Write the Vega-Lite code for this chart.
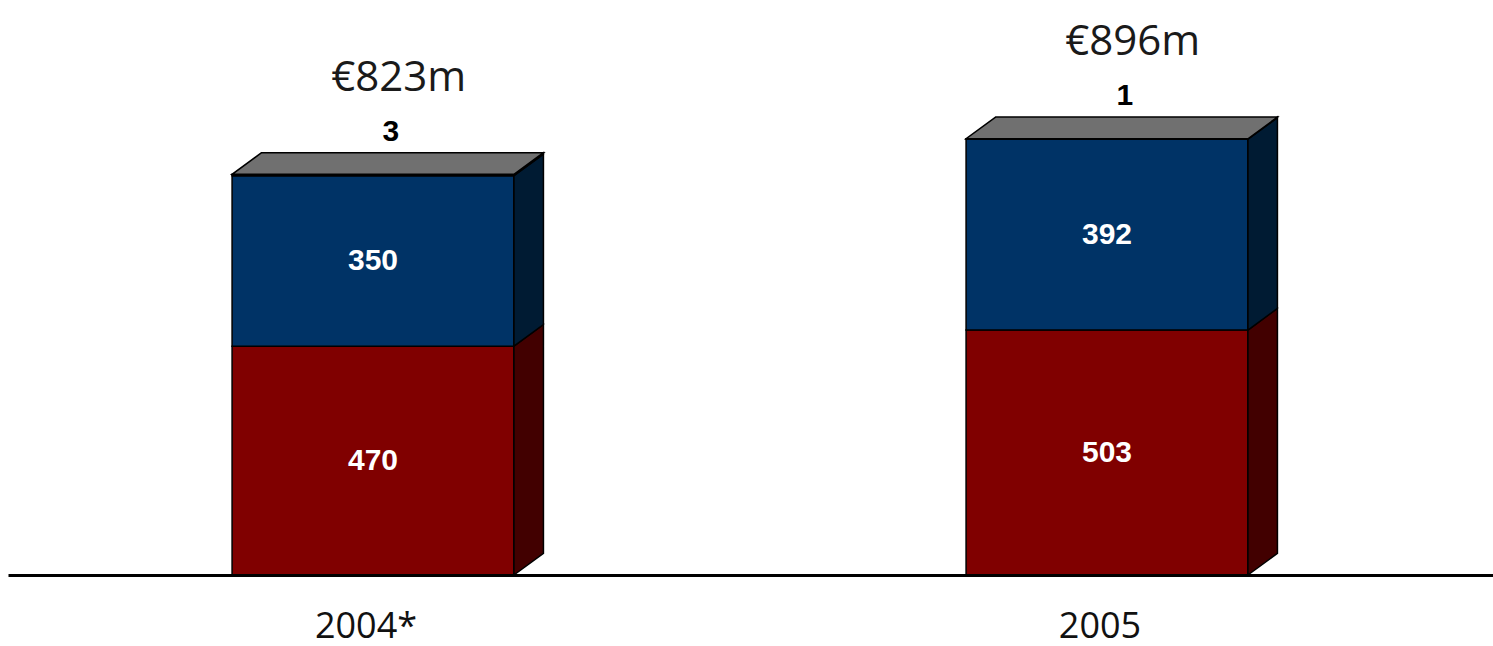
{
  "$schema": "https://vega.github.io/schema/vega-lite/v6.json",
  "width": 1485,
  "height": 575,
  "autosize": {"type": "none"},
  "padding": {"left": 8, "top": 0, "right": 0, "bottom": 71},
  "background": "white",
  "config": {"view": {"stroke": null}},
  "data": {
    "values": [
      {"year": "2004*", "part": "A", "value": 470},
      {"year": "2004*", "part": "B", "value": 350},
      {"year": "2004*", "part": "C", "value": 3},
      {"year": "2005", "part": "A", "value": 503},
      {"year": "2005", "part": "B", "value": 392},
      {"year": "2005", "part": "C", "value": 1}
    ]
  },
  "transform": [
    {"window": [{"op": "dense_rank", "as": "idx"}], "sort": [{"field": "year"}]},
    {"stack": "value", "groupby": ["year"], "sort": [{"field": "part"}], "as": ["v0", "v1"]},
    {"joinaggregate": [{"op": "sum", "field": "value", "as": "total"}], "groupby": ["year"]},
    {"calculate": "datum.idx - 0.192", "as": "xl"},
    {"calculate": "datum.idx + 0.192", "as": "xr"}
  ],
  "layer": [
    {
      "mark": {"type": "bar", "stroke": "black", "strokeWidth": 1.5},
      "encoding": {
        "x": {"field": "xl", "type": "quantitative", "scale": {"domain": [0.50272, 2.52589], "nice": false, "zero": false},
              "axis": {"labels": false, "ticks": false, "grid": false, "title": null, "domainColor": "black", "domainWidth": 3, "zindex": 1}},
        "x2": {"field": "xr"},
        "y": {"field": "v0", "type": "quantitative", "scale": {"domain": [0, 1181], "nice": false}, "axis": null},
        "y2": {"field": "v1"},
        "color": {"field": "part", "type": "nominal", "scale": {"domain": ["A", "B", "C"], "range": ["#800000", "#003366", "#808080"]}, "legend": null}
      }
    },
    {
      "transform": [
        {"calculate": "[0, 1]", "as": "ks"},
        {"flatten": ["ks"], "as": ["k"]},
        {"calculate": "datum.xr + datum.k * 0.0402", "as": "sx"},
        {"calculate": "datum.v0 + datum.k * 44.5", "as": "sy0"},
        {"calculate": "datum.v1 + datum.k * 44.5", "as": "sy1"}
      ],
      "mark": {"type": "area", "stroke": "black", "strokeWidth": 1.5, "orient": "vertical"},
      "encoding": {
        "x": {"field": "sx", "type": "quantitative", "scale": {"domain": [0.50272, 2.52589], "nice": false, "zero": false}},
        "y": {"field": "sy0", "type": "quantitative", "scale": {"domain": [0, 1181], "nice": false}, "stack": null},
        "y2": {"field": "sy1"},
        "detail": {"field": "year"},
        "color": {"field": "part", "type": "nominal", "scale": {"domain": ["A", "B", "C"], "range": ["#420000", "#001b33", "#404040"]}, "legend": null}
      }
    },
    {
      "transform": [
        {"filter": "datum.v1 == datum.total"},
        {"calculate": "[0, 1]", "as": "ks"},
        {"flatten": ["ks"], "as": ["k"]},
        {"calculate": "datum.xl + datum.k * 0.0402", "as": "tx0"},
        {"calculate": "datum.xr + datum.k * 0.0402", "as": "tx1"},
        {"calculate": "datum.v1 + datum.k * 44.5", "as": "ty"}
      ],
      "mark": {"type": "area", "stroke": "black", "strokeWidth": 1.5, "orient": "horizontal", "fill": "#707070"},
      "encoding": {
        "y": {"field": "ty", "type": "quantitative", "scale": {"domain": [0, 1181], "nice": false}},
        "x": {"field": "tx0", "type": "quantitative", "scale": {"domain": [0.50272, 2.52589], "nice": false, "zero": false}, "stack": null},
        "x2": {"field": "tx1"},
        "detail": {"field": "year"}
      }
    },
    {
      "transform": [
        {"filter": "datum.value >= 50"},
        {"calculate": "(datum.v0 + datum.v1) / 2", "as": "mid"}
      ],
      "mark": {"type": "text", "color": "white", "font": "Liberation Sans", "fontWeight": "bold", "fontSize": 30, "baseline": "middle", "align": "center"},
      "encoding": {
        "x": {"field": "idx", "type": "quantitative", "scale": {"domain": [0.50272, 2.52589], "nice": false, "zero": false}},
        "y": {"field": "mid", "type": "quantitative", "scale": {"domain": [0, 1181], "nice": false}},
        "text": {"field": "value", "type": "quantitative"}
      }
    },
    {
      "transform": [
        {"filter": "datum.value < 50"},
        {"calculate": "datum.idx + 0.0201", "as": "lx"},
        {"calculate": "datum.total + 44.5", "as": "ly"}
      ],
      "mark": {"type": "text", "color": "black", "font": "Liberation Sans", "fontWeight": "bold", "fontSize": 30, "baseline": "alphabetic", "align": "center", "dx": 3, "dy": -12},
      "encoding": {
        "x": {"field": "lx", "type": "quantitative", "scale": {"domain": [0.50272, 2.52589], "nice": false, "zero": false}},
        "y": {"field": "ly", "type": "quantitative", "scale": {"domain": [0, 1181], "nice": false}},
        "text": {"field": "value", "type": "quantitative"}
      }
    },
    {
      "transform": [
        {"filter": "datum.v1 == datum.total"},
        {"calculate": "datum.idx + 0.0201", "as": "lx"},
        {"calculate": "datum.total + 44.5", "as": "ly"},
        {"calculate": "'€' + datum.total + 'm'", "as": "label"}
      ],
      "mark": {"type": "text", "color": "#1a1a1a", "font": "Open Sans", "fontSize": 42, "baseline": "alphabetic", "align": "center", "dx": 11, "dy": -62},
      "encoding": {
        "x": {"field": "lx", "type": "quantitative", "scale": {"domain": [0.50272, 2.52589], "nice": false, "zero": false}},
        "y": {"field": "ly", "type": "quantitative", "scale": {"domain": [0, 1181], "nice": false}},
        "text": {"field": "label", "type": "nominal"}
      }
    },
    {
      "transform": [
        {"filter": "datum.part == 'A'"}
      ],
      "mark": {"type": "text", "color": "#111111", "font": "Open Sans", "fontSize": 36, "baseline": "alphabetic", "align": "center", "dx": -7, "dy": 63},
      "encoding": {
        "x": {"field": "idx", "type": "quantitative", "scale": {"domain": [0.50272, 2.52589], "nice": false, "zero": false}},
        "y": {"datum": 0, "type": "quantitative", "scale": {"domain": [0, 1181], "nice": false}},
        "text": {"field": "year", "type": "nominal"}
      }
    }
  ],
  "resolve": {"scale": {"color": "independent"}}
}
